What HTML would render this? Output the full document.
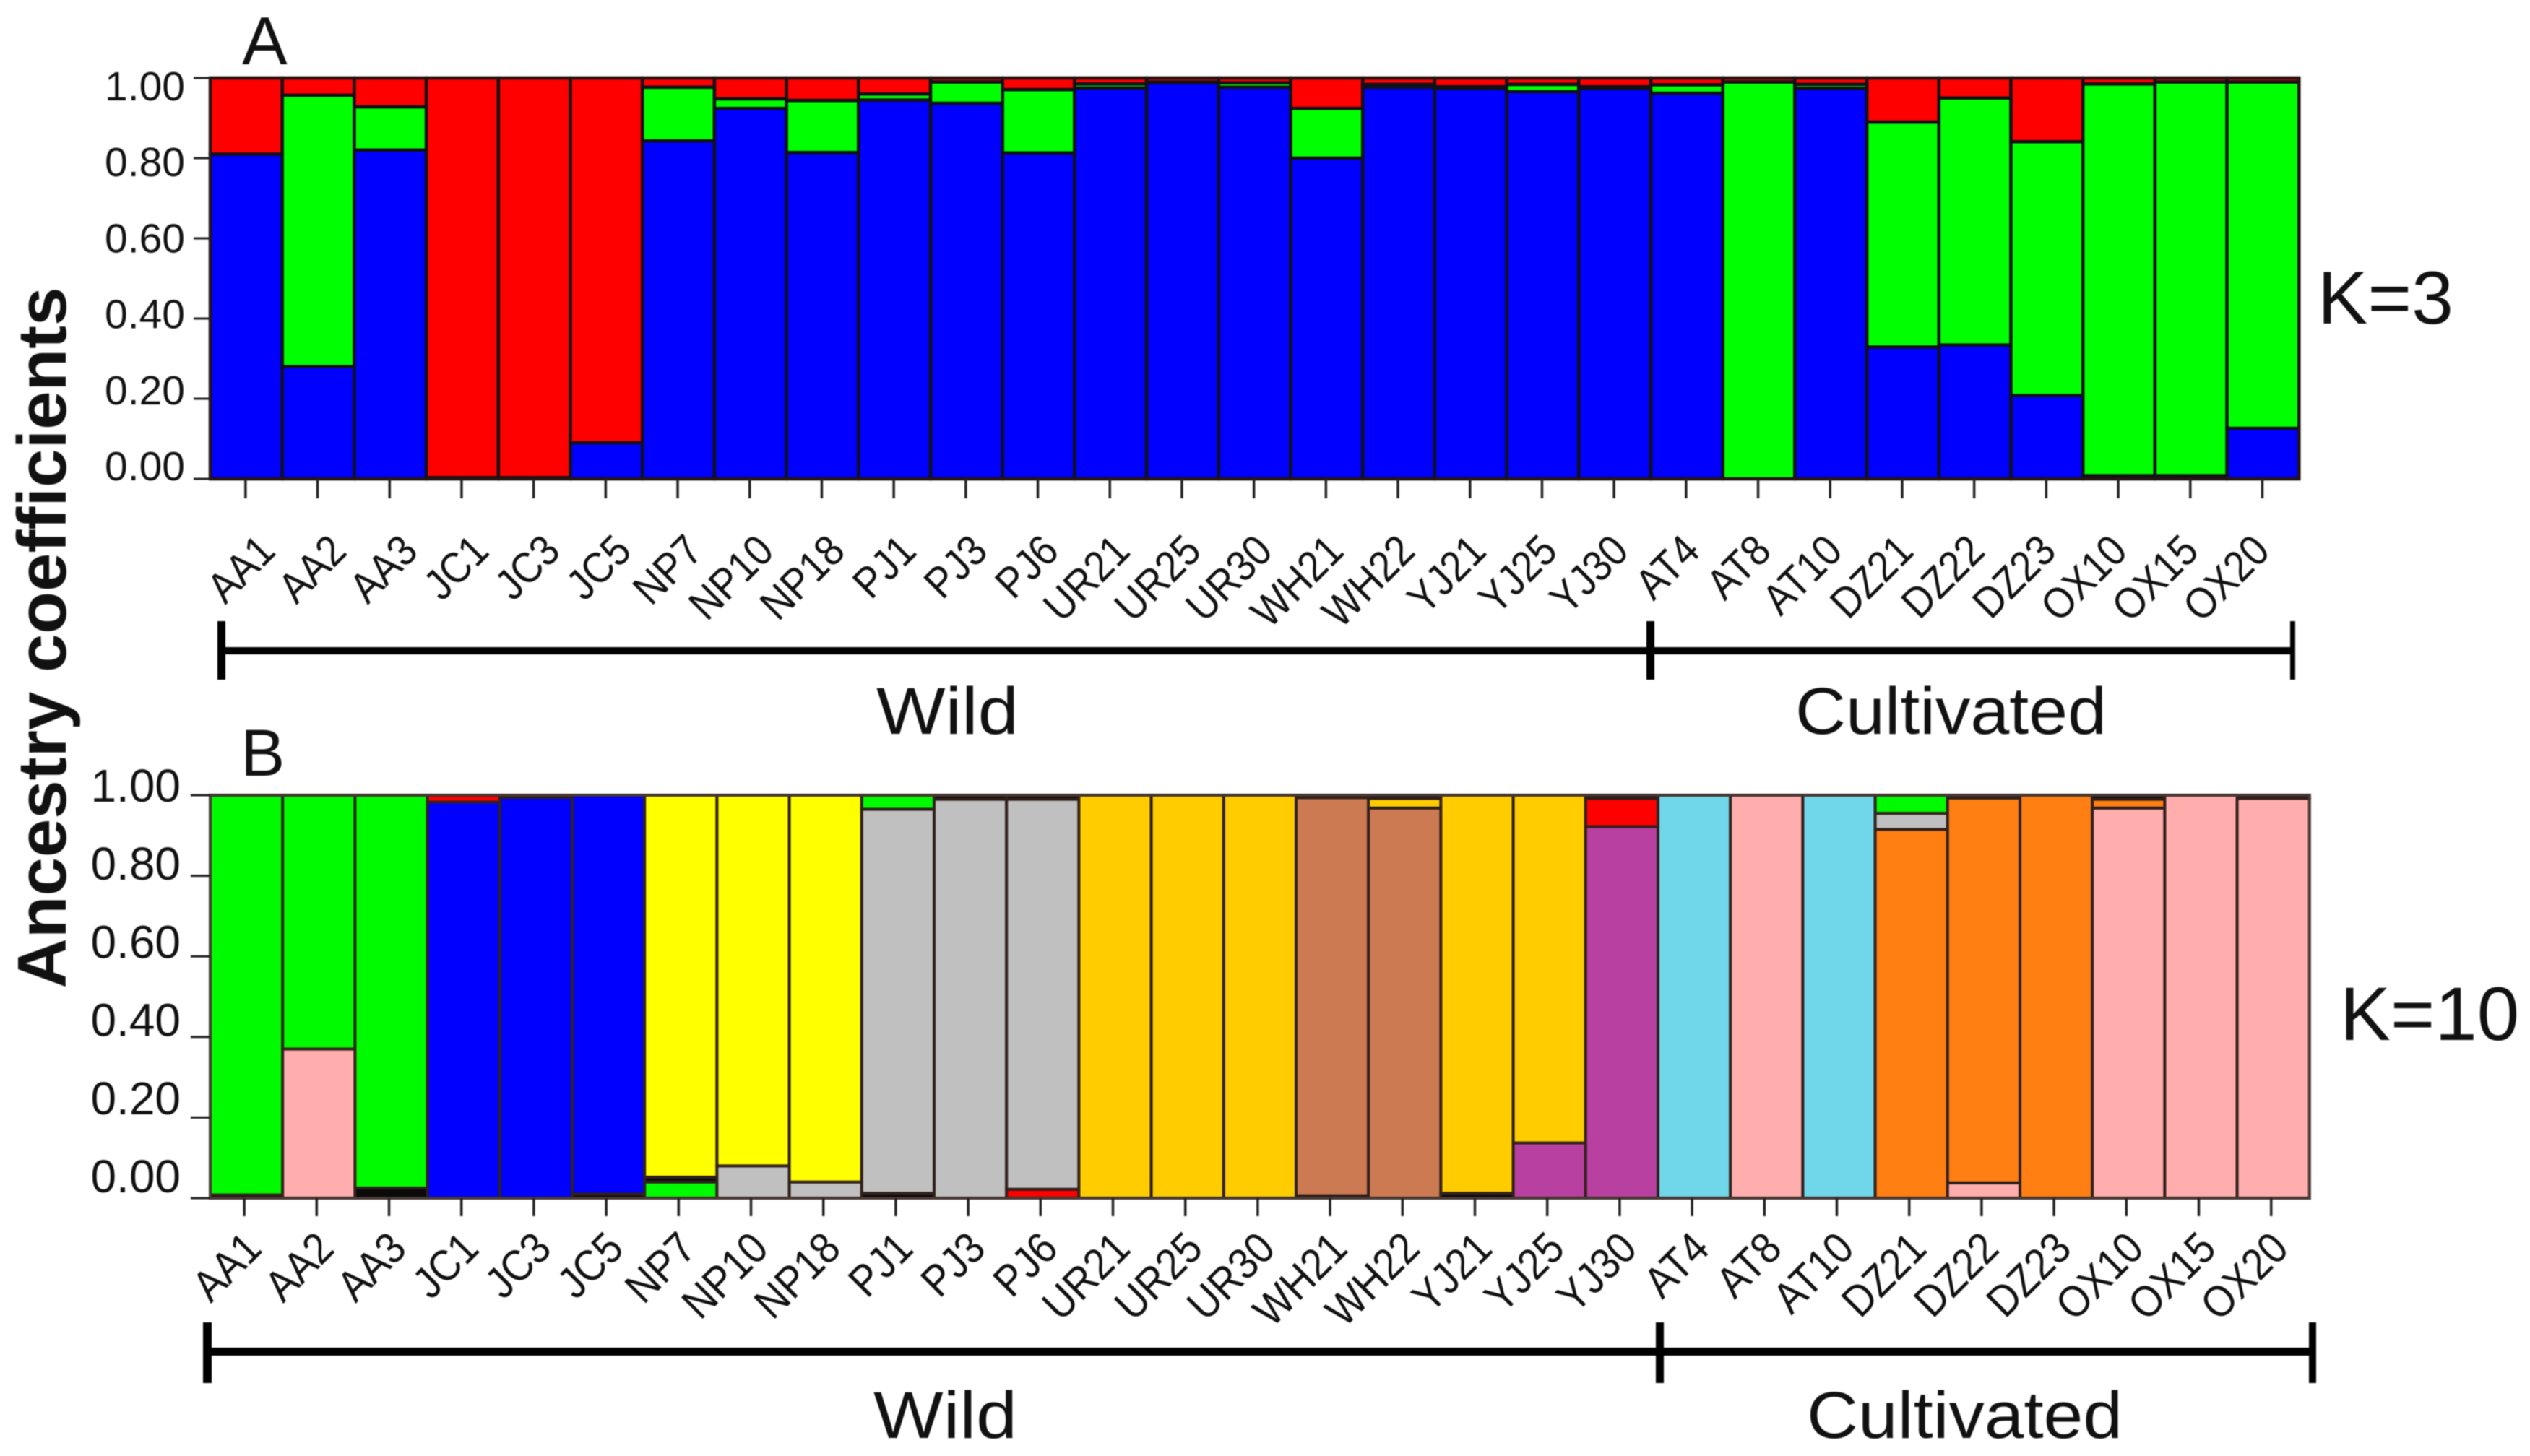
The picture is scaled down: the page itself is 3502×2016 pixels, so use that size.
<!DOCTYPE html>
<html lang="en">
<head>
<meta charset="utf-8">
<title>Ancestry coefficients K=3 and K=10</title>
<style>
html,body{margin:0;padding:0;background:#fff;width:3502px;height:2016px;overflow:hidden}
svg{display:block;filter:blur(0.9px)}
text{font-family:"Liberation Sans",sans-serif;fill:#111}
</style>
</head>
<body>
<svg id="chart" xmlns="http://www.w3.org/2000/svg" width="3502" height="2016" viewBox="0 0 3502 2016">
<rect x="0" y="0" width="3502" height="2016" fill="#fff"/>
<text transform="translate(91,883) rotate(-90)" text-anchor="middle" font-size="96" font-weight="700" style="font-weight:700">Ancestry coefficients</text>
<text x="335" y="89" font-size="94">A</text>
<text x="333" y="1074" font-size="92">B</text>
<text x="3208" y="448" font-size="104">K=3</text>
<text x="3239" y="1440" font-size="105">K=10</text>
<g id="panelA"></g>
<g id="panelB"></g>
<g fill="#000">
  <rect x="306" y="896" width="2866" height="10"/>
  <rect x="301" y="860" width="11" height="81"/>
  <rect x="2279" y="860" width="11" height="81"/>
  <rect x="3170" y="860" width="7" height="81"/>
</g>
<text x="1213" y="1016" font-size="92" textLength="197" lengthAdjust="spacingAndGlyphs">Wild</text>
<text x="2485" y="1016" font-size="92" textLength="431" lengthAdjust="spacingAndGlyphs">Cultivated</text>
<g fill="#000">
  <rect x="287" y="1866" width="2914" height="11"/>
  <rect x="281" y="1831" width="12" height="84"/>
  <rect x="2292" y="1831" width="11" height="84"/>
  <rect x="3196" y="1831" width="10" height="84"/>
</g>
<text x="1209" y="1991" font-size="92" textLength="199" lengthAdjust="spacingAndGlyphs">Wild</text>
<text x="2501" y="1991" font-size="92" textLength="437" lengthAdjust="spacingAndGlyphs">Cultivated</text>
</svg>
<script>
const samples = ["AA1","AA2","AA3","JC1","JC3","JC5","NP7","NP10","NP18","PJ1","PJ3","PJ6","UR21","UR25","UR30","WH21","WH22","YJ21","YJ25","YJ30","AT4","AT8","AT10","DZ21","DZ22","DZ23","OX10","OX15","OX20"];
const yTicks = [0, 0.2, 0.4, 0.6, 0.8, 1];
const yTickLabels = ["0.00","0.20","0.40","0.60","0.80","1.00"];

// K=3 shares, stacked bottom to top
const kThreeBlue  = [0.81,0.28,0.82,0.003,0.003,0.09,0.843,0.924,0.814,0.945,0.937,0.813,0.975,0.988,0.977,0.80,0.977,0.974,0.966,0.974,0.962,0,0.974,0.329,0.334,0.208,0.008,0.008,0.126];
const kThreeGreen = [0,0.677,0.108,0,0,0,0.134,0.024,0.13,0.015,0.053,0.158,0.01,0.002,0.011,0.124,0.007,0.004,0.018,0.004,0.021,0.99,0.01,0.561,0.616,0.633,0.977,0.982,0.864];
const kThreeRed   = [0.19,0.043,0.072,0.997,0.997,0.91,0.023,0.052,0.056,0.04,0.01,0.029,0.015,0.01,0.012,0.076,0.016,0.022,0.016,0.022,0.017,0.01,0.016,0.11,0.05,0.159,0.015,0.01,0.01];

// K=10 colours by cluster
const clusterNames  = ["black","green","blue","red","yellow","gray","amber","brown","purple","cyan","pink","orange"];
const clusterColors = ["#0a0a0a","#00fa00","#0000ff","#ff0000","#ffff00","#c0c0c0","#ffcc00","#cc7a52","#b840a0","#70d6ea","#ffadad","#ff7f12"];

// K=10 stack order per sample, bottom to top
const kTenClusters = [
  ["black","green"],["pink","green"],["black","green"],
  ["blue","red"],["blue","red"],["black","blue"],
  ["green","black","yellow"],["gray","yellow"],["gray","yellow"],
  ["black","gray","green"],["gray","black"],["red","gray","black"],
  ["amber"],["amber"],["amber"],
  ["red","brown","black"],["brown","amber","black"],
  ["black","amber"],["purple","amber"],["purple","red","black"],
  ["cyan"],["pink"],["cyan"],
  ["orange","gray","green"],["pink","orange","black"],["orange"],
  ["pink","orange","black"],["pink"],["pink","black"]
];
// K=10 shares per sample, same order as kTenClusters
const kTenShares = [
  [0.008,0.992],[0.37,0.63],[0.025,0.975],
  [0.983,0.017],[0.995,0.005],[0.01,0.99],
  [0.04,0.012,0.948],[0.08,0.92],[0.04,0.96],
  [0.012,0.953,0.035],[0.99,0.01],[0.022,0.968,0.01],
  [1],[1],[1],
  [0.006,0.988,0.006],[0.968,0.024,0.008],
  [0.012,0.988],[0.137,0.863],[0.922,0.07,0.008],
  [1],[1],[1],
  [0.915,0.04,0.045],[0.038,0.955,0.007],[1],
  [0.968,0.022,0.01],[1],[0.992,0.008]
];

const NS = "http://www.w3.org/2000/svg";
function el(tag, parent) {
  const node = document.createElementNS(NS, tag);
  parent.appendChild(node);
  return node;
}
function rect(node, x, y, w, h, fill, stroke, sw) {
  node.setAttribute("x", x);
  node.setAttribute("y", y);
  node.setAttribute("width", w);
  node.setAttribute("height", h);
  node.setAttribute("fill", fill);
  node.setAttribute("stroke", stroke);
  node.setAttribute("stroke-width", sw);
}

function drawAxes(parent, cfg) {
  const xBand = i => cfg.x0 + i * cfg.bw;
  const y = v => cfg.yBase - cfg.yScale * v;
  const labelY = v => cfg.labelBase - cfg.labelScale * v;

  yTicks.forEach((t, i) => {
    const tick = el("line", parent);
    
    
    tick.setAttribute("x1", cfg.tickLeft);
    tick.setAttribute("x2", cfg.x0);
    tick.setAttribute("y1", y(t));
    tick.setAttribute("y2", y(t));
    tick.setAttribute("stroke", "#222");
    tick.setAttribute("stroke-width", 3);
    const label = el("text", parent);
    
    
    label.setAttribute("x", cfg.labelRight);
    label.setAttribute("y", labelY(t));
    label.setAttribute("text-anchor", "end");
    label.setAttribute("font-size", cfg.yFont);
    label.textContent = yTickLabels[i];
  });

  samples.forEach((s, i) => {
    const cx = xBand(i) + cfg.bw / 2 + cfg.tickShift;
    const tick = el("line", parent);
    
    
    tick.setAttribute("x1", cx);
    tick.setAttribute("x2", cx);
    tick.setAttribute("y1", cfg.yBase);
    tick.setAttribute("y2", cfg.yBase + cfg.tickLen);
    tick.setAttribute("stroke", "#222");
    tick.setAttribute("stroke-width", 3.5);
    const label = el("text", parent);
    
    
    label.setAttribute("transform", "translate(" + (cx + cfg.xLabelDx + cfg.xLabelDrift * i) + "," + cfg.xLabelY + ") rotate(-45) scale(0.9,1)");
    label.setAttribute("text-anchor", "end");
    label.setAttribute("font-size", cfg.xFont);
    label.textContent = s;
  });
}

const cfgA = {x0:291,bw:99.7,yBase:663,yScale:555,labelBase:665,labelScale:526,labelRight:256,tickLeft:268,tickLen:27,tickShift:-1,yFont:57,xFont:60,xLabelDx:44,xLabelDrift:-1.1,xLabelY:766};
const cfgB = {x0:291,bw:100.2,yBase:1659,yScale:558,labelBase:1651,labelScale:541,labelRight:250,tickLeft:264,tickLen:25,tickShift:-3,yFont:64,xFont:61,xLabelDx:27,xLabelDrift:0,xLabelY:1732};

// Panel A
(function () {
  const g = document.getElementById("panelA");
  const xBand = i => cfgA.x0 + i * cfgA.bw;
  const y = v => cfgA.yBase - cfgA.yScale * v;
  samples.forEach((s, i) => {
    const parts = [[kThreeBlue[i], "#0000ff", "blue"], [kThreeGreen[i], "#00ff00", "green"], [kThreeRed[i], "#ff0000", "red"]];
    let acc = 0;
    parts.forEach(p => {
      if (p[0] <= 0) return;
      const seg = el("rect", g);
      
      
      rect(seg, xBand(i), y(acc + p[0]), cfgA.bw, cfgA.yScale * p[0], p[1], "#101018", 4.5);
      acc += p[0];
    });
  });
  const frame = el("rect", g);
  
  
  rect(frame, cfgA.x0, y(1), cfgA.bw * samples.length, cfgA.yScale, "none", "#2a1410", 3);
  drawAxes(g, cfgA);
})();

// Panel B
(function () {
  const g = document.getElementById("panelB");
  const xBand = i => cfgB.x0 + i * cfgB.bw;
  const y = v => cfgB.yBase - cfgB.yScale * v;
  samples.forEach((s, i) => {
    let acc = 0;
    kTenClusters[i].forEach((name, j) => {
      const share = kTenShares[i][j];
      const seg = el("rect", g);
      
      
      rect(seg, xBand(i), y(acc + share), cfgB.bw, cfgB.yScale * share, clusterColors[clusterNames.indexOf(name)], "#30201c", 4);
      acc += share;
    });
  });
  const frame = el("rect", g);
  
  
  rect(frame, cfgB.x0, y(1), cfgB.bw * samples.length, cfgB.yScale, "none", "#4a3a36", 3);
  drawAxes(g, cfgB);
})();
</script>
</body>
</html>
